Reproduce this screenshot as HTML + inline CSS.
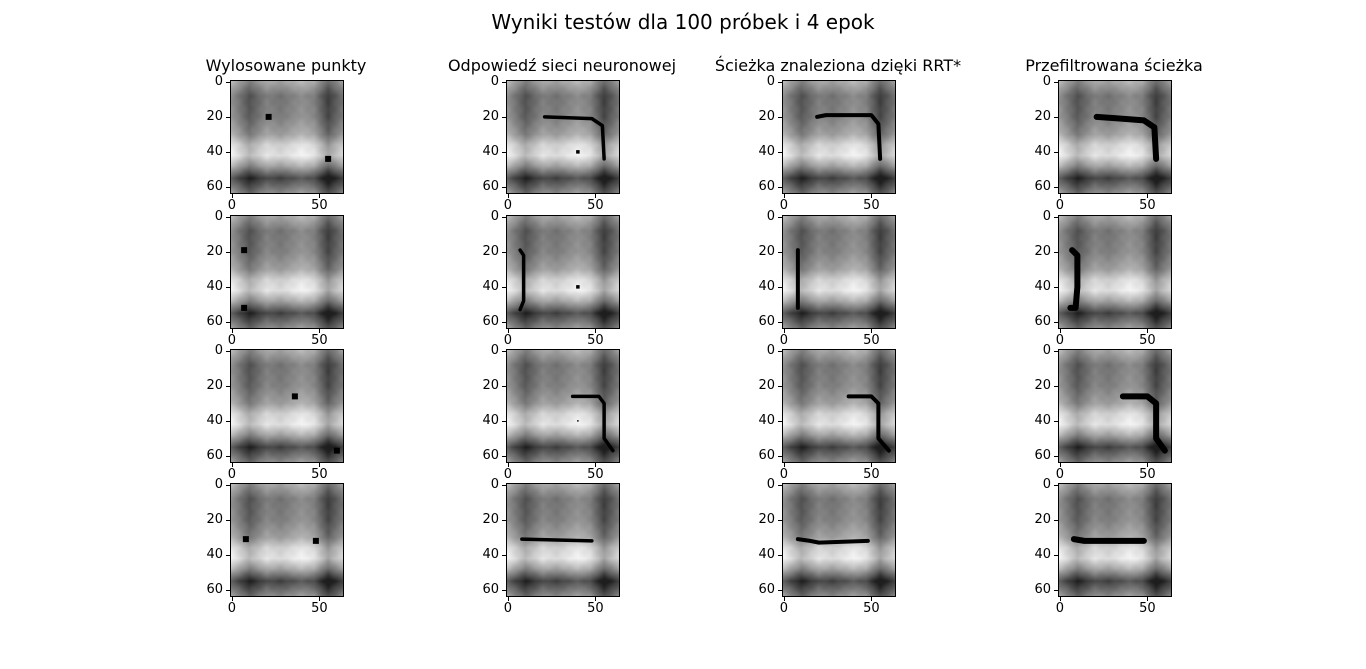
<!DOCTYPE html>
<html><head><meta charset="utf-8">
<style>
body{margin:0;width:1366px;height:669px;background:#fff;font-family:"DejaVu Sans","Liberation Sans",sans-serif;position:relative;overflow:hidden}
.t{position:absolute;font-size:16px;color:#000;white-space:nowrap;transform:translateX(-50%)}
.ax{position:absolute;width:112px;height:112px;border:1px solid #000;box-sizing:content-box}
.ax canvas{position:absolute;left:0;top:0;width:112px;height:112px}
.ax svg{position:absolute;left:0;top:0}
.tk{position:absolute;font-size:13px;color:#000;white-space:nowrap}
</style></head><body>
<div class="t" style="left:683px;top:10px;font-size:20px">Wyniki testów dla 100 próbek i 4 epok</div>
<div id="root"></div>
<script>
const colTitles=["Wylosowane punkty","Odpowiedź sieci neuronowej","Ścieżka znaleziona dzięki RRT*","Przefiltrowana ścieżka"];
const colLeft=[230,506,782,1058];
const rowTop=[80,215,349,483];
const yTicks=[0,20,40,60];
const xTicks=[0,50];
const startPts=[[21,20],[7,19],[36,26],[8,31]];
const endPts=[[55,44],[7,52],[60,57],[48,32]];
const nnPaths=[[[21,20],[48,21],[54,25],[55,44]],[[7,19],[9,22],[9,48],[7,53]],[[37,26],[52,26],[55,30],[55,50],[60,57]],[[8,31],[48,32]]];
const rrtPaths=[[[19,20],[24,19],[50,19],[54,24],[55,44]],[[8,19],[8,52]],[[37,26],[50,26],[54,30],[54,50],[60,57]],[[8,31],[15,32],[20,33],[48,32]]];
const filtPaths=[[[21,20],[35,21],[48,22],[54,26],[55,44]],[[7,19],[10,22],[10,40],[9,52],[6,52]],[[36,26],[50,26],[55,30],[55,50],[60,57]],[[8,31],[14,32],[48,32]]];
const rowProf=[[0,170],[8,125],[20,135],[30,165],[36,215],[42,230],[48,170],[55,75],[63,140]];
const colProf=[[0,15],[10,-45],[20,0],[28,-12],[40,15],[47,0],[55,-65],[63,-15]];
function interp(p,v){for(let i=0;i<p.length-1;i++){if(v<=p[i+1][0]){const t=(v-p[i][0])/(p[i+1][0]-p[i][0]);return p[i][1]+t*(p[i+1][1]-p[i][1]);}}return p[p.length-1][1];}
const S=112/64;
function sx(x){return (x+0.5)*S;}
const root=document.getElementById('root');
colTitles.forEach((t,c)=>{
  const d=document.createElement('div');d.className='t';
  
  
  d.style.left=(colLeft[c]+56)+'px';d.style.top='56px';d.textContent=t;root.appendChild(d);
});
const NS='http://www.w3.org/2000/svg';
for(let r=0;r<4;r++)for(let c=0;c<4;c++){
  const ax=document.createElement('div');ax.className='ax';
  
  
  ax.style.left=colLeft[c]+'px';ax.style.top=rowTop[r]+'px';
  const cv=document.createElement('canvas');cv.width=64;cv.height=64;
  const g=cv.getContext('2d');const im=g.createImageData(64,64);
  for(let y=0;y<64;y++)for(let x=0;x<64;x++){
    let v=interp(rowProf,y)+interp(colProf,x)+3*Math.cos(x*0.8)*Math.cos(y*0.8);
    const gv=Math.round(Math.max(30,Math.min(250,v)));const i=(y*64+x)*4;
    im.data[i]=im.data[i+1]=im.data[i+2]=gv;im.data[i+3]=255;}
  g.putImageData(im,0,0);ax.appendChild(cv);
  const svg=document.createElementNS(NS,'svg');svg.setAttribute('width',112);svg.setAttribute('height',112);
  const poly=(pts,w)=>{const p=document.createElementNS(NS,'polyline');
    
    
    p.setAttribute('points',pts.map(q=>sx(q[0])+','+sx(q[1])).join(' '));
    p.setAttribute('fill','none');p.setAttribute('stroke','#000');p.setAttribute('stroke-width',w);
    p.setAttribute('stroke-linejoin','round');p.setAttribute('stroke-linecap','round');svg.appendChild(p);};
  const dot=(q,s)=>{const e=document.createElementNS(NS,'rect');
    
    
    e.setAttribute('x',sx(q[0])-s/2);e.setAttribute('y',sx(q[1])-s/2);e.setAttribute('width',s);e.setAttribute('height',s);svg.appendChild(e);};
  if(c===0){dot(startPts[r],6);dot(endPts[r],6);}
  if(c===1){poly(nnPaths[r],3.5);if(r<3)dot([40,40],r===2?1.5:3.5);}
  if(c===2){poly(rrtPaths[r],4);}
  if(c===3){poly(filtPaths[r],6);}
  ax.appendChild(svg);root.appendChild(ax);
  yTicks.forEach(v=>{const y=rowTop[r]+1+sx(v);
    const l=document.createElement('div');l.style.cssText=`position:absolute;left:${colLeft[c]-4}px;top:${y}px;width:4px;height:1px;background:#000`;root.appendChild(l);
    const tx=document.createElement('div');tx.className='tk';
    
    
    tx.style.cssText+=`right:${1366-colLeft[c]+7}px;top:${y-8}px`;tx.textContent=v;root.appendChild(tx);});
  xTicks.forEach(v=>{const x=colLeft[c]+1+sx(v);const yb=rowTop[r]+114;
    const l=document.createElement('div');l.style.cssText=`position:absolute;left:${x}px;top:${yb}px;width:1px;height:4px;background:#000`;root.appendChild(l);
    const tx=document.createElement('div');tx.className='tk';
    
    
    tx.style.cssText+=`left:${x}px;top:${yb+4}px;transform:translateX(-50%)`;tx.textContent=v;root.appendChild(tx);});
}
</script>
</body></html>
